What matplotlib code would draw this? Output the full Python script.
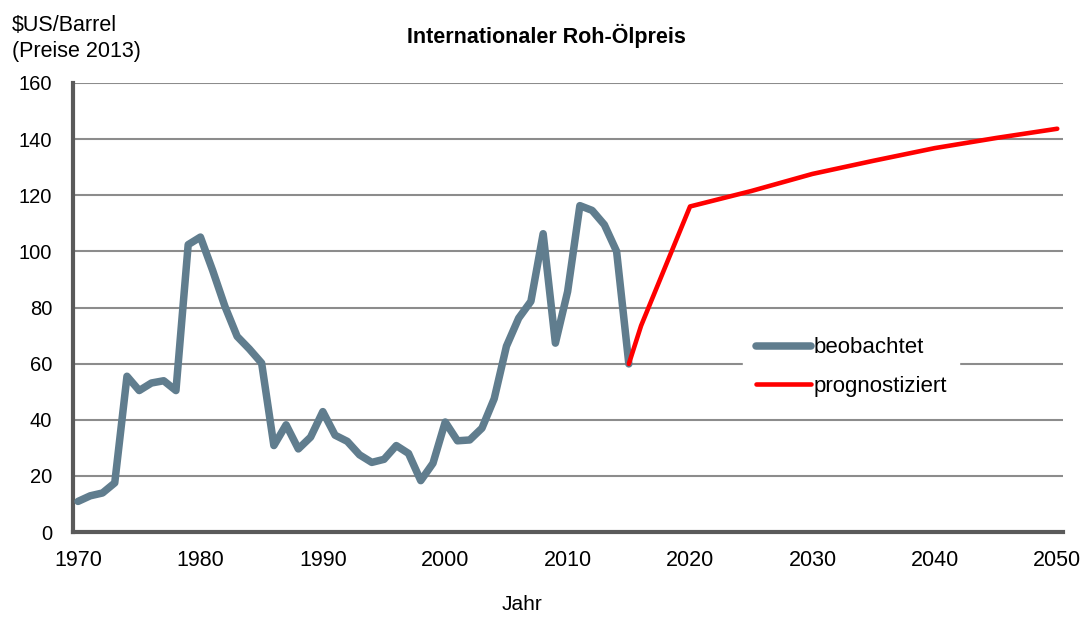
import matplotlib
matplotlib.use("Agg")
import matplotlib.pyplot as plt

plt.rcParams['font.family'] = ['Liberation Sans', 'DejaVu Sans']

obs_years = list(range(1970, 2016))
obs_values = [10.9, 12.9, 13.9, 17.5, 55.5, 50.4, 53.1, 53.9, 50.4, 102.4,
              105.1, 93.2, 80.4, 69.7, 65.2, 60.2, 30.8, 38.2, 29.6, 33.8,
              42.9, 34.5, 32.3, 27.5, 24.8, 25.9, 30.8, 28.0, 18.3, 24.5,
              39.2, 32.5, 32.8, 37.0, 47.5, 66.2, 76.2, 82.2, 106.3, 67.3,
              85.7, 116.3, 114.6, 109.5, 100.0, 59.9]

proj_years = [2015, 2016, 2020, 2025, 2030, 2035, 2040, 2045, 2050]
proj_values = [59.9, 73.5, 116.0, 121.5, 127.6, 132.3, 136.8, 140.4, 143.7]

x_ticks = [1970, 1980, 1990, 2000, 2010, 2020, 2030, 2040, 2050]
y_ticks = [0, 20, 40, 60, 80, 100, 120, 140, 160]

fig = plt.figure(figsize=(10.84, 6.17), dpi=100)
ax = fig.add_axes([73/1084, 1-532/617, 990/1084, 449/617])

ax.set_xlim(1969.59, 2050.47)
ax.set_ylim(0, 160)
ax.set_yticks(y_ticks)
ax.set_xticks(x_ticks)
ax.yaxis.grid(True, color='#8c8c8c', linewidth=1.5)
ax.set_axisbelow(True)

ax.plot(obs_years, obs_values, color='#607D8E', linewidth=5.4,
        solid_capstyle='round', solid_joinstyle='round', label='beobachtet', zorder=3)
ax.plot(proj_years, proj_values, color='#FF0000', linewidth=3.3,
        solid_capstyle='round', solid_joinstyle='round', label='prognostiziert', zorder=3)

for s in ['top', 'right']:
    ax.spines[s].set_visible(False)
for s in ['left', 'bottom']:
    ax.spines[s].set_color('#5a5a5a')
    ax.spines[s].set_linewidth(3)

ax.tick_params(axis='both', length=0, colors='black')
ax.tick_params(axis='x', pad=13, labelsize=15.5)
ax.tick_params(axis='y', pad=15, labelsize=14.5)

leg = ax.legend(loc='upper left', bbox_to_anchor=(0.666, 0.4855), frameon=True,
                fontsize=16, handlelength=2.5, handletextpad=0.1,
                labelspacing=0.78, borderpad=0.55)
leg.get_frame().set_facecolor('white')
leg.get_frame().set_edgecolor('white')
leg.get_frame().set_alpha(1)
leg.get_frame().set_boxstyle('square', pad=0)

fig.text(546/1084, 1-42.7/617, 'Internationaler Roh-Ölpreis', ha='center', va='baseline',
         fontsize=15.5, fontweight='bold')
fig.text(12/1084, 1-31/617, '\\$US/Barrel', ha='left', va='baseline', fontsize=15.5)
fig.text(12/1084, 1-57/617, '(Preise 2013)', ha='left', va='baseline', fontsize=15.5)
fig.text(522/1084, 1-605/617, 'Jahr', ha='center', va='center', fontsize=15)

fig.savefig('out.png', dpi=100)
